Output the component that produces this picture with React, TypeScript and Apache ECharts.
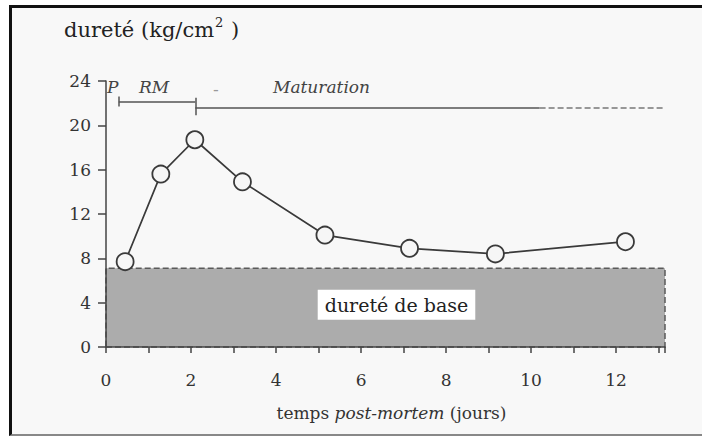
import React, { useEffect, useRef } from "react";
import * as echarts from "echarts";

// ---- data ----
const days = [0.45, 1.29, 2.09, 3.21, 5.15, 7.14, 9.16, 12.22];
const hardness = [7.7, 15.6, 18.7, 14.9, 10.1, 8.9, 8.4, 9.5];
const baseHardness = 7.1;
const baseLabel = "dureté de base";
const xMax = 13.15;
const yMax = 24;
const yStep = 4;
const xStep = 1;
const xLabelEvery = 2;
// phases: P ends / RM ends at these days; maturation drawn solid then dashed
const phaseP = 0.3;
const phaseRM = 2.1;
const maturationSolidEnd = 10.2;
const maturationDashedEnd = 13.15;
const rmLevel = 22.1;
const matLevel = 21.6;
const phaseNames = ["P", "RM", "-", "Maturation"];
const yTitle = "dureté (kg/cm";
const xTitleA = "temps ";
const xTitleB = "post-mortem";
const xTitleC = " (jours)";

const SERIF = "'DejaVu Serif', 'Liberation Serif', serif";

export default function App() {
  const ref = useRef<HTMLDivElement>(null);
  useEffect(() => {
    document.body.style.margin = "0";
    if (!ref.current) return;
    const chart = echarts.init(ref.current, undefined, { renderer: "svg" });
    const lineColor = "#3a3a3a";
    const option: any = {
      animation: false,
      grid: { left: 106, right: 37, top: 81, bottom: 92, containLabel: false },
      xAxis: {
        type: "value",
        min: 0,
        max: xMax,
        interval: xStep,
        z: 6,
        axisLine: { show: true, onZero: false, lineStyle: { color: "#444", width: 1.5 } },
        axisTick: { show: true, length: 6, lineStyle: { color: "#444", width: 1.5 } },
        splitLine: { show: false },
        axisLabel: {
          margin: 24,
          fontSize: 17,
          fontFamily: SERIF,
          color: "#333",
          formatter: (v: number) =>
            Math.abs(v - Math.round(v)) < 1e-6 && Math.round(v) % xLabelEvery === 0 ? String(Math.round(v)) : "",
        },
        name: `{a|${xTitleA}}{b|${xTitleB}}{a|${xTitleC}}`,
        nameLocation: "middle",
        nameGap: 57,
        nameTextStyle: {
          padding: [0, 0, 0, 12],
          rich: {
            a: { fontSize: 17, fontFamily: SERIF, color: "#333" },
            b: { fontSize: 17, fontFamily: SERIF, fontStyle: "italic", color: "#333" },
          },
        },
      },
      yAxis: {
        type: "value",
        min: 0,
        max: yMax,
        interval: yStep,
        z: 6,
        axisLine: { show: true, lineStyle: { color: "#444", width: 1.5 } },
        axisTick: { show: true, length: 8, lineStyle: { color: "#444", width: 1.5 } },
        splitLine: { show: false },
        axisLabel: { margin: 15, fontSize: 17, fontFamily: SERIF, color: "#333" },
      },
      series: [
        {
          type: "line",
          data: days.map((d, i) => [d, hardness[i]]),
          symbol: "circle",
          symbolSize: 17,
          z: 5,
          lineStyle: { color: lineColor, width: 1.7 },
          itemStyle: { color: "#f6f6f6", borderColor: lineColor, borderWidth: 1.8 },
          markArea: {
            silent: true,
            itemStyle: {
              color: "#acacac",
              borderColor: "#5a5a5a",
              borderWidth: 1.5,
              borderType: "dashed",
            },
            label: {
              show: true,
              position: "inside",
              offset: [11, -3],
              formatter: baseLabel,
              fontSize: 19,
              fontFamily: SERIF,
              color: "#222",
              backgroundColor: "#ffffff",
              padding: [6, 7, 5, 7],
            },
            data: [[{ coord: [0, 0] }, { coord: [xMax, baseHardness] }]],
          },
          markLine: {
            silent: true,
            symbol: ["none", "none"],
            label: { show: false },
            lineStyle: { color: "#555", width: 1.5, type: "solid" },
            data: [
              [{ coord: [phaseP, rmLevel] }, { coord: [phaseRM, rmLevel] }],
              [{ coord: [phaseRM, matLevel] }, { coord: [maturationSolidEnd, matLevel] }],
              [
                { coord: [maturationSolidEnd, matLevel], lineStyle: { type: "dashed", color: "#777", width: 1.5 } },
                { coord: [maturationDashedEnd, matLevel] },
              ],
              [{ coord: [phaseP, 22.6] }, { coord: [phaseP, 21.7] }],
              [{ coord: [phaseRM, 22.5] }, { coord: [phaseRM, 20.9] }],
            ],
          },
        },
      ],
      graphic: [
        {
          type: "text",
          left: 64,
          top: 16,
          style: {
            text: `{a|${yTitle}}{s|2}{a| )}`,
            rich: {
              a: { fontSize: 21, fontFamily: SERIF, fill: "#222", padding: [8, 0, 0, 0] },
              s: { fontSize: 13, fontFamily: SERIF, fill: "#222", padding: [0, 1, 7, 1] },
            },
          },
        },
        { type: "text", left: 107, top: 78, style: { text: phaseNames[0], font: `italic 17px ${SERIF}`, fill: "#444" } },
        { type: "text", left: 139, top: 78, style: { text: phaseNames[1], font: `italic 17px ${SERIF}`, fill: "#444" } },
        { type: "text", left: 213, top: 80, style: { text: phaseNames[2], font: `17px ${SERIF}`, fill: "#999" } },
        { type: "text", left: 273, top: 78, style: { text: phaseNames[3], font: `italic 17px ${SERIF}`, fill: "#444" } },
      ],
    };
    chart.setOption(option);
    return () => chart.dispose();
  }, []);
  return (
    <div style={{ position: "relative", width: 702, height: 439, background: "#ffffff", overflow: "hidden" }}>
      <div
        style={{
          position: "absolute",
          left: 9,
          top: 5,
          width: 700,
          height: 431,
          borderTop: "3px solid #111",
          borderLeft: "3px solid #111",
          borderBottom: "2px solid #888",
          background: "#f8f8f8",
          boxSizing: "border-box",
        }}
      />
      <div ref={ref} style={{ position: "absolute", left: 0, top: 0, width: 702, height: 439 }} />
    </div>
  );
}
